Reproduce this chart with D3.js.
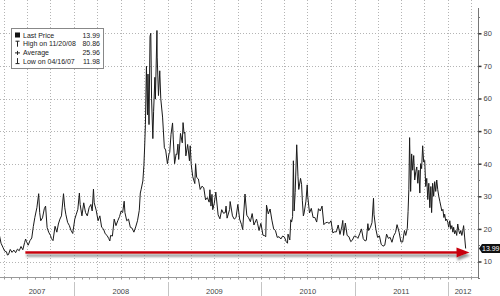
<!DOCTYPE html>
<html>
<head>
<meta charset="utf-8">
<script src="https://cdn.jsdelivr.net/npm/d3@7"></script>
<style>
  body { margin: 0; background: #fff; }
  svg { display: block; font-family: "Liberation Sans", Arial, sans-serif; }
</style>
</head>
<body>
<div id="chart"></div>
<script>
// VIX closes (date, level)
var vix2007 = [
  ["2007-03-16",17.9],["2007-03-22",15.6],["2007-03-29",14.4],["2007-04-05",13.2],["2007-04-12",13.0],
  ["2007-04-16",11.98],["2007-04-20",12.1],["2007-04-27",13.7],["2007-05-04",12.8],["2007-05-11",13.5],
  ["2007-05-18",12.7],["2007-05-25",13.8],["2007-06-01",13.3],["2007-06-08",14.6],["2007-06-15",13.6],
  ["2007-06-22",15.8],["2007-06-26",16.9],["2007-06-29",16.2],["2007-07-06",15.0],["2007-07-13",16.4],
  ["2007-07-20",17.2],["2007-07-26",20.7],["2007-08-01",23.5],["2007-08-09",26.5],["2007-08-16",30.8],
  ["2007-08-20",25.0],["2007-08-24",22.5],["2007-08-31",23.4],["2007-09-07",26.2],["2007-09-12",27.0],
  ["2007-09-18",20.4],["2007-09-24",19.0],["2007-10-01",18.0],["2007-10-05",17.0],["2007-10-11",16.4],
  ["2007-10-19",20.8],["2007-10-26",19.0],["2007-11-01",21.5],["2007-11-07",23.0],["2007-11-13",24.0],
  ["2007-11-21",30.8],["2007-11-26",26.5],["2007-11-30",24.5],["2007-12-07",22.0],["2007-12-14",21.0],
  ["2007-12-20",19.6],["2007-12-27",18.6]
];
var vix2008 = [
  ["2008-01-04",23.0],["2008-01-10",24.5],["2008-01-16",26.0],["2008-01-22",31.0],["2008-01-25",27.5],
  ["2008-02-01",24.0],["2008-02-08",28.0],["2008-02-15",25.0],["2008-02-22",24.0],["2008-02-29",26.5],
  ["2008-03-07",27.5],["2008-03-12",25.5],["2008-03-17",32.2],["2008-03-20",28.0],["2008-03-28",25.6],
  ["2008-04-04",22.5],["2008-04-11",24.0],["2008-04-18",20.5],["2008-04-25",20.0],["2008-05-02",18.5],
  ["2008-05-09",18.0],["2008-05-16",17.0],["2008-05-20",16.3],["2008-05-23",18.0],["2008-05-30",17.8],
  ["2008-06-06",23.0],["2008-06-13",21.0],["2008-06-20",22.5],["2008-06-27",23.8],["2008-07-03",25.5],
  ["2008-07-09",25.0],["2008-07-15",28.5],["2008-07-18",25.0],["2008-07-25",22.5],["2008-08-01",23.0],
  ["2008-08-08",20.5],["2008-08-15",20.2],["2008-08-22",19.0],["2008-08-29",20.6],["2008-09-05",22.5],
  ["2008-09-12",25.7],["2008-09-16",31.0],["2008-09-19",32.0],["2008-09-26",34.7],["2008-09-30",39.4],
  ["2008-10-03",45.1],["2008-10-06",52.0],["2008-10-10",69.9],["2008-10-14",55.0],["2008-10-16",67.5],
  ["2008-10-20",52.0],["2008-10-24",79.1],["2008-10-27",80.0],["2008-10-30",59.9],["2008-11-04",47.7],
  ["2008-11-07",56.1],["2008-11-12",66.5],["2008-11-14",59.8],["2008-11-20",80.86],["2008-11-21",72.7],
  ["2008-11-26",60.9],["2008-12-01",68.5],["2008-12-05",59.9],["2008-12-12",54.3],["2008-12-19",44.9],
  ["2008-12-24",44.2],["2008-12-31",40.0]
];
var vix2009 = [
  ["2009-01-06",43.0],["2009-01-09",43.5],["2009-01-14",49.0],["2009-01-20",52.5],["2009-01-23",47.3],
  ["2009-01-28",40.0],["2009-02-03",43.0],["2009-02-06",42.8],["2009-02-10",46.0],["2009-02-13",41.3],
  ["2009-02-20",49.3],["2009-02-27",46.4],["2009-03-02",52.6],["2009-03-06",49.3],["2009-03-09",49.7],
  ["2009-03-13",42.4],["2009-03-20",45.9],["2009-03-27",40.9],["2009-03-30",45.5],["2009-04-03",39.7],
  ["2009-04-09",36.0],["2009-04-17",33.9],["2009-04-20",40.0],["2009-04-24",35.8],["2009-05-01",35.3],
  ["2009-05-08",32.1],["2009-05-15",33.1],["2009-05-22",32.6],["2009-05-29",28.9],["2009-06-05",29.6],
  ["2009-06-12",28.2],["2009-06-15",32.0],["2009-06-19",27.0],["2009-06-23",30.6],["2009-06-26",25.9],
  ["2009-07-02",27.9],["2009-07-08",31.3],["2009-07-17",24.3],["2009-07-24",23.1],["2009-07-31",25.9],
  ["2009-08-07",24.8],["2009-08-14",25.0],["2009-08-17",27.0],["2009-08-21",23.3],["2009-08-31",26.0],
  ["2009-09-02",28.4],["2009-09-11",24.0],["2009-09-18",23.0],["2009-09-25",23.5],["2009-10-02",27.5],
  ["2009-10-09",23.0],["2009-10-16",21.4],["2009-10-21",19.8],["2009-10-30",30.7],["2009-11-06",24.2],
  ["2009-11-13",23.4],["2009-11-20",22.2],["2009-11-27",24.7],["2009-12-04",21.2],["2009-12-11",22.5],
  ["2009-12-14",23.0],["2009-12-18",21.7],["2009-12-24",19.5],["2009-12-31",21.7]
];
var vix2010 = [
  ["2010-01-04",20.0],["2010-01-08",18.1],["2010-01-15",17.9],["2010-01-19",17.6],["2010-01-22",27.3],
  ["2010-01-29",24.6],["2010-02-05",26.1],["2010-02-12",22.7],["2010-02-19",20.0],["2010-02-26",19.5],
  ["2010-03-05",17.4],["2010-03-12",17.6],["2010-03-19",16.9],["2010-03-26",17.8],["2010-04-02",17.5],
  ["2010-04-09",16.1],["2010-04-14",15.6],["2010-04-16",18.4],["2010-04-23",16.6],["2010-04-27",22.8],
  ["2010-04-30",22.1],["2010-05-04",23.8],["2010-05-07",40.9],["2010-05-10",25.5],["2010-05-14",31.2],
  ["2010-05-20",45.8],["2010-05-25",36.0],["2010-05-28",32.1],["2010-06-04",35.5],["2010-06-08",33.7],
  ["2010-06-11",28.8],["2010-06-15",24.0],["2010-06-18",24.9],["2010-06-25",28.5],["2010-06-30",33.5],
  ["2010-07-02",30.1],["2010-07-09",24.9],["2010-07-16",26.3],["2010-07-23",23.5],["2010-07-30",23.5],
  ["2010-08-06",22.1],["2010-08-13",26.2],["2010-08-20",25.5],["2010-08-27",27.0],["2010-09-03",21.3],
  ["2010-09-10",21.9],["2010-09-17",22.0],["2010-09-24",21.7],["2010-10-01",22.5],["2010-10-08",18.8],
  ["2010-10-15",19.1],["2010-10-22",19.1],["2010-10-29",21.2],["2010-11-05",18.3],["2010-11-12",20.6],
  ["2010-11-16",22.6],["2010-11-19",18.0],["2010-11-26",21.8],["2010-12-03",18.0],["2010-12-10",17.6],
  ["2010-12-17",16.1],["2010-12-23",16.5],["2010-12-31",17.8]
];
var vix2011 = [
  ["2011-01-07",17.7],["2011-01-14",17.1],["2011-01-21",18.5],["2011-01-28",20.0],["2011-02-04",17.0],
  ["2011-02-11",16.3],["2011-02-16",16.5],["2011-02-22",21.6],["2011-02-25",19.5],["2011-03-04",20.5],
  ["2011-03-10",21.9],["2011-03-16",29.4],["2011-03-18",24.4],["2011-03-25",20.0],["2011-04-01",17.4],
  ["2011-04-08",17.9],["2011-04-15",15.3],["2011-04-22",14.7],["2011-04-29",15.0],["2011-05-06",18.4],
  ["2011-05-13",17.1],["2011-05-20",17.4],["2011-05-27",15.9],["2011-06-03",17.9],["2011-06-10",18.9],
  ["2011-06-16",21.3],["2011-06-24",19.0],["2011-07-01",16.0],["2011-07-08",16.0],["2011-07-15",19.5],
  ["2011-07-20",18.0],["2011-07-26",20.2],["2011-07-29",25.3],["2011-08-01",32.0],["2011-08-04",48.0],
  ["2011-08-08",31.5],["2011-08-12",43.0],["2011-08-16",38.0],["2011-08-20",42.5],["2011-08-24",35.0],
  ["2011-08-28",37.5],["2011-09-01",39.0],["2011-09-05",34.0],["2011-09-09",38.0],["2011-09-13",31.0],
  ["2011-09-16",40.0],["2011-09-20",38.5],["2011-09-24",45.5],["2011-09-28",40.5],["2011-10-02",41.0],
  ["2011-10-06",33.0],["2011-10-10",35.5],["2011-10-14",29.0],["2011-10-18",34.0],["2011-10-22",26.5],
  ["2011-10-26",33.0],["2011-10-29",25.0],["2011-11-02",34.0],["2011-11-06",30.0],["2011-11-10",34.5],
  ["2011-11-14",31.5],["2011-11-18",35.0],["2011-11-22",32.0],["2011-11-26",30.0],["2011-11-30",28.5],
  ["2011-12-04",27.0],["2011-12-08",25.5],["2011-12-12",26.0],["2011-12-16",23.5],["2011-12-19",24.5],
  ["2011-12-23",22.5],["2011-12-27",23.0],["2011-12-31",22.0]
];
var vix2012 = [
  ["2012-01-04",20.5],["2012-01-08",22.5],["2012-01-12",20.0],["2012-01-16",21.0],["2012-01-20",19.0],
  ["2012-01-23",20.5],["2012-01-27",18.5],["2012-01-31",19.5],["2012-02-04",18.0],["2012-02-08",21.5],
  ["2012-02-12",19.5],["2012-02-16",18.5],["2012-02-20",19.5],["2012-02-24",18.0],["2012-02-27",19.0],
  ["2012-03-02",21.0],["2012-03-06",17.5],["2012-03-10",13.99]
];

var yTicks = [10, 20, 30, 40, 50, 60, 70, 80];
var yMinorTicks = [5, 15, 25, 35, 45, 55, 65, 75, 85];
var yearLabels = ["2007", "2008", "2009", "2010", "2011", "2012"];
var legendRows = [
  {icon: "last", label: "Last Price", value: "13.99"},
  {icon: "high", label: "High on 11/20/08", value: "80.86"},
  {icon: "avg",  label: "Average", value: "25.96"},
  {icon: "low",  label: "Low on 04/16/07", value: "11.98"}
];
var lastPrice = 13.99;
var arrowNote = {from: "2007-06-25", to: "2012-03-25", level: 12.75};

var width = 500, height = 296;
var plotRight = 478, plotTop = 0, plotBottom = 277;

var parse = d3.timeParse("%Y-%m-%d");
var series = [].concat(vix2007, vix2008, vix2009, vix2010, vix2011, vix2012)
  .map(function(d) { return {date: parse(d[0]), value: d[1]}; });

var svg = d3.select("#chart").append("svg")
    .attr("width", width)
    .attr("height", height);

var x = d3.scaleTime()
    .domain([new Date(2008, 0, 1), new Date(2012, 0, 1)])
    .range([74, 448]);

var y = d3.scaleLinear()
    .domain([10, 80])
    .range([261.5, 33.3]);

var defs = svg.append("defs");
defs.append("clipPath").attr("id", "plot-clip")
  .append("rect").attr("x", 0).attr("y", plotTop).attr("width", plotRight).attr("height", plotBottom - plotTop);
var shadow = defs.append("filter").attr("id", "arrow-shadow")
    .attr("x", "-5%").attr("y", "-200%").attr("width", "110%").attr("height", "500%");
shadow.append("feDropShadow").attr("dx", 1).attr("dy", 3).attr("stdDeviation", 1.2)
    .attr("flood-color", "#777").attr("flood-opacity", 0.8);

// dotted grid
var quarters = d3.timeMonth.every(3).range(new Date(2007, 0, 1), new Date(2012, 6, 1))
    .filter(function(d) { return x(d) > 0 && x(d) < plotRight; });
svg.append("g").selectAll("line").data(quarters).enter().append("line")
    .attr("x1", function(d) { return Math.round(x(d)) + 0.5; })
    .attr("x2", function(d) { return Math.round(x(d)) + 0.5; })
    .attr("y1", plotTop).attr("y2", plotBottom)
    .attr("stroke", "#b4b4b4").attr("stroke-dasharray", "1,2");
svg.append("g").selectAll("line").data(yTicks).enter().append("line")
    .attr("x1", 0).attr("x2", plotRight)
    .attr("y1", function(d) { return Math.round(y(d)) + 0.5; })
    .attr("y2", function(d) { return Math.round(y(d)) + 0.5; })
    .attr("stroke", "#b4b4b4").attr("stroke-dasharray", "1,2");

// price line
var line = d3.line()
    .x(function(d) { return x(d.date); })
    .y(function(d) { return y(d.value); });
svg.append("path").datum(series)
    .attr("clip-path", "url(#plot-clip)")
    .attr("d", line)
    .attr("fill", "none")
    .attr("stroke", "#1a1a1a")
    .attr("stroke-width", 1)
    .attr("stroke-linejoin", "round");

// red arrow annotation
var ax1 = x(parse(arrowNote.from)), ax2 = x(parse(arrowNote.to)), ay = y(arrowNote.level);
var arrow = svg.append("g").attr("filter", "url(#arrow-shadow)");
arrow.append("line")
    .attr("x1", ax1).attr("x2", ax2 - 11).attr("y1", ay).attr("y2", ay)
    .attr("stroke", "#c8000a").attr("stroke-width", 2.4);
arrow.append("path")
    .attr("d", "M" + ax2 + "," + ay + "L" + (ax2 - 13) + "," + (ay - 5) + "L" + (ax2 - 13) + "," + (ay + 5) + "Z")
    .attr("fill", "#c8000a");

// right axis
svg.append("line").attr("x1", plotRight + 0.5).attr("x2", plotRight + 0.5)
    .attr("y1", 8).attr("y2", plotBottom + 1).attr("stroke", "#777");
var yAxis = svg.append("g").attr("transform", "translate(" + (plotRight + 0.5) + ",0)")
    .call(d3.axisRight(y).tickValues(yTicks).tickSize(3).tickPadding(2));
yAxis.select(".domain").remove();
yAxis.selectAll(".tick line").attr("stroke", "#333").attr("stroke-width", 1.5);
yAxis.selectAll(".tick text").attr("font-size", 7.5).attr("fill", "#444")
    .attr("font-family", "Liberation Sans, Arial, sans-serif");
svg.append("g").selectAll("line").data(yMinorTicks).enter().append("line")
    .attr("x1", plotRight).attr("x2", plotRight + 2)
    .attr("y1", function(d) { return Math.round(y(d)) + 0.5; })
    .attr("y2", function(d) { return Math.round(y(d)) + 0.5; })
    .attr("stroke", "#777");

// last price tag
var ly = y(lastPrice);
svg.append("path")
    .attr("d", "M" + (plotRight + 1) + "," + ly + "L" + (plotRight + 4) + "," + (ly - 4.5) +
               "H" + width + "V" + (ly + 4.5) + "H" + (plotRight + 4) + "Z")
    .attr("fill", "#111");
svg.append("text").attr("x", plotRight + 4).attr("y", ly + 2.5)
    .attr("font-size", 7).attr("fill", "#fff").text(lastPrice.toFixed(2));

// bottom axis
svg.append("line").attr("x1", 0).attr("x2", plotRight).attr("y1", plotBottom + 0.5).attr("y2", plotBottom + 0.5)
    .attr("stroke", "#999");
var months = d3.timeMonth.range(new Date(2007, 2, 1), new Date(2012, 4, 1))
    .filter(function(d) { return x(d) > 0 && x(d) < plotRight; });
svg.append("g").selectAll("line").data(months).enter().append("line")
    .attr("x1", function(d) { return Math.round(x(d)) + 0.5; })
    .attr("x2", function(d) { return Math.round(x(d)) + 0.5; })
    .attr("y1", plotBottom).attr("y2", plotBottom + 2.5)
    .attr("stroke", "#999");

var years = yearLabels.map(function(s) {
  var yr = +s;
  var a = Math.max(0, x(new Date(yr, 0, 1))), b = Math.min(plotRight, x(new Date(yr + 1, 0, 1)));
  return {label: s, start: x(new Date(yr, 0, 1)), mid: (a + b) / 2};
});
svg.append("g").selectAll("line").data(years.filter(function(d) { return d.start > 0; })).enter().append("line")
    .attr("x1", function(d) { return Math.round(d.start) + 0.5; })
    .attr("x2", function(d) { return Math.round(d.start) + 0.5; })
    .attr("y1", 282).attr("y2", height)
    .attr("stroke", "#c4c4c4");
svg.append("g").selectAll("text").data(years).enter().append("text")
    .attr("x", function(d) { return d.mid; })
    .attr("y", 294)
    .attr("text-anchor", "middle")
    .attr("font-size", 7.5).attr("fill", "#444")
    .text(function(d) { return d.label; });

// legend
var lg = svg.append("g").attr("transform", "translate(11,28)");
lg.append("rect").attr("x", 0.5).attr("y", 0.5).attr("width", 92).attr("height", 40)
    .attr("fill", "#fff").attr("stroke", "#888");
var rows = lg.selectAll("g.row").data(legendRows).enter().append("g")
    .attr("class", "row")
    .attr("transform", function(d, i) { return "translate(0," + (7 + i * 8.7) + ")"; });
rows.each(function(d) {
  var g = d3.select(this);
  if (d.icon === "last") {
    g.append("rect").attr("x", 4).attr("y", -2.5).attr("width", 5).attr("height", 5).attr("fill", "#111");
  } else if (d.icon === "high") {
    g.append("path").attr("d", "M6.5,-2.5V3M4.5,-2.5H8.5").attr("stroke", "#222").attr("fill", "none");
  } else if (d.icon === "avg") {
    g.append("path").attr("d", "M4,0.5H9M6.5,-1.5V2.5").attr("stroke", "#222").attr("fill", "none");
  } else {
    g.append("path").attr("d", "M6.5,-3V2.5M4.5,2.5H8.5").attr("stroke", "#222").attr("fill", "none");
  }
  g.append("text").attr("x", 12).attr("y", 2.6).attr("font-size", 7).attr("fill", "#222").text(d.label);
  g.append("text").attr("x", 89).attr("y", 2.6).attr("text-anchor", "end")
      .attr("font-size", 7).attr("fill", "#222").text(d.value);
});
</script>
</body>
</html>
